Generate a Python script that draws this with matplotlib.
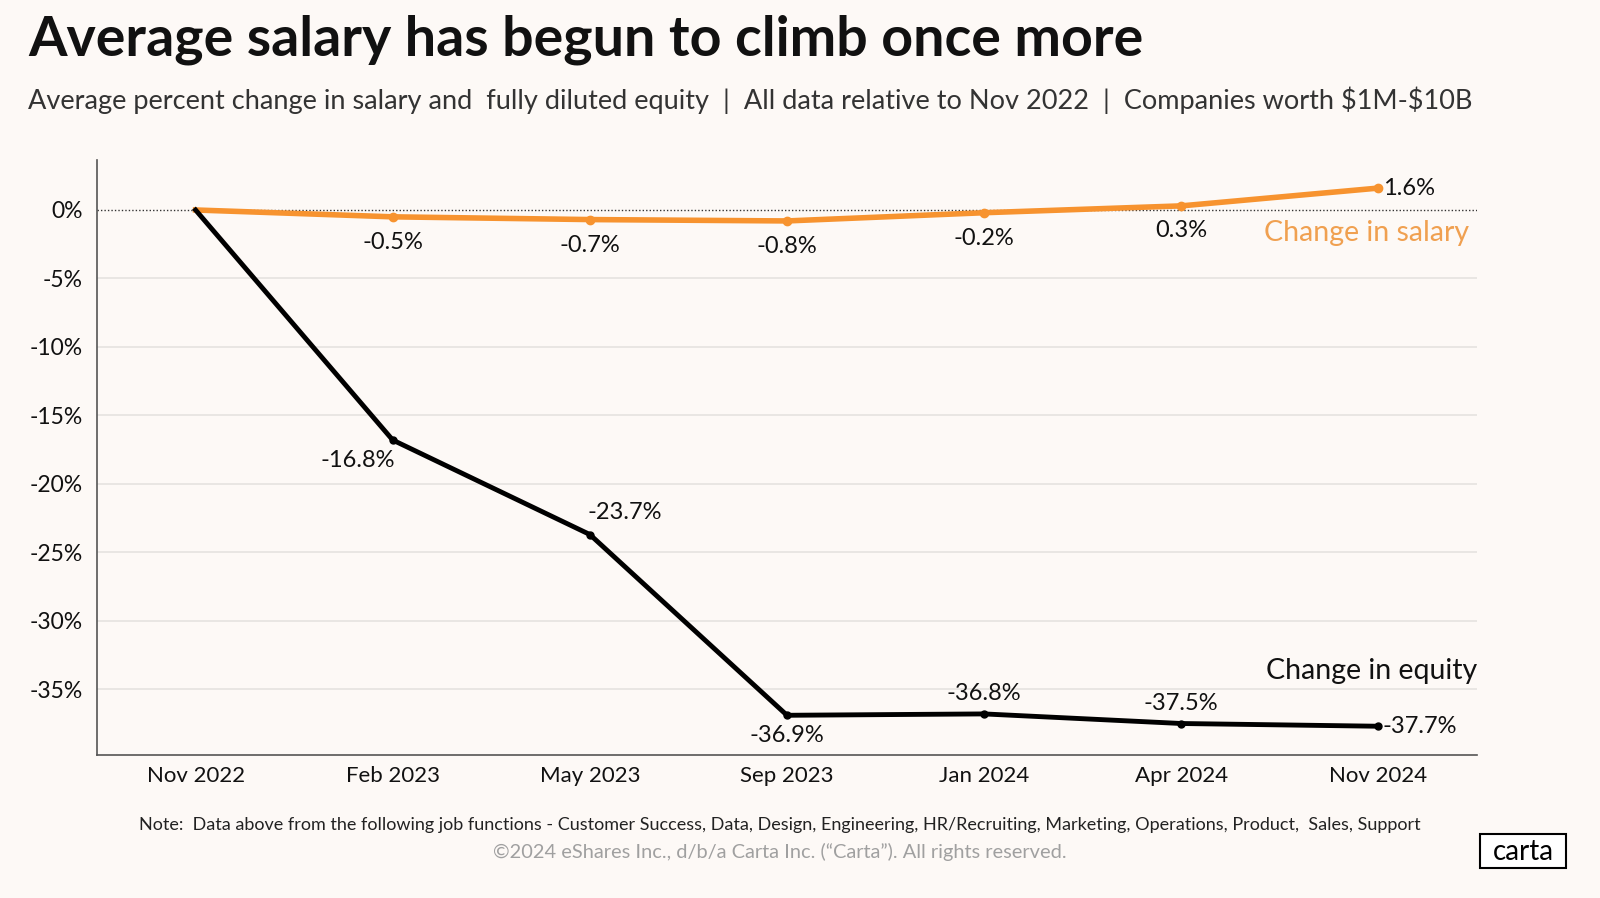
import matplotlib.pyplot as plt
from matplotlib.patches import FancyBboxPatch

# data
months = ['Nov 2022', 'Feb 2023', 'May 2023', 'Sep 2023', 'Jan 2024', 'Apr 2024', 'Nov 2024']
salary = [0.0, -0.5, -0.7, -0.8, -0.2, 0.3, 1.6]
equity = [0.0, -16.8, -23.7, -36.9, -36.8, -37.5, -37.7]
yticks = [0, -5, -10, -15, -20, -25, -30, -35]

# label placement (offset in points, alignment) per point
salary_pos = [None, (0, -11, 'center', 'top'), (0, -11, 'center', 'top'), (0, -11, 'center', 'top'),
              (0, -11, 'center', 'top'), (0, -10, 'center', 'top'), (3, 0, 'left', 'center')]
equity_pos = [None, (-25, -7, 'center', 'top'), (25, 8, 'center', 'bottom'), (0, -7, 'center', 'top'),
              (0, 7, 'center', 'bottom'), (0, 7, 'center', 'bottom'), (3, 0, 'left', 'center')]

BG = '#FDF9F6'
ORANGE = '#F7932F'
plt.rcParams['font.family'] = ['Lato', 'DejaVu Sans']

fig = plt.figure(figsize=(16, 8.98), dpi=100, facecolor=BG)
ax = fig.add_axes([97 / 1600, 1 - 755 / 898, 1380 / 1600, 595 / 898])
ax.set_facecolor(BG)

x = list(range(len(months)))

# grid lines
for t in yticks[1:]:
    ax.axhline(t, color='#E6E3E0', lw=1.2, zorder=0)
ax.axhline(0, color='#333333', lw=1, ls=(0, (1, 1.5)), zorder=1)

ax.plot(x, salary, color=ORANGE, lw=4, zorder=3)
ax.plot(x[1:], salary[1:], 'o', color=ORANGE, ms=6, zorder=4)
ax.plot(x, equity, color='black', lw=3.5, zorder=3)
ax.plot(x[1:], equity[1:], 'o', color='black', ms=5, zorder=4)

for vals, pos in [(salary, salary_pos), (equity, equity_pos)]:
    for i, v in enumerate(vals):
        if pos[i] is None:
            continue
        dx, dy, ha, va = pos[i]
        ax.annotate(f'{v:.1f}%', (i, v), xytext=(dx, dy), textcoords='offset points',
                    ha=ha, va=va, fontsize=17, color='#111111')

ax.text(6.46, -1.7, 'Change in salary', color='#F0A050', fontsize=20.5, ha='right', va='center')
ax.text(6.5, -33.7, 'Change in equity', color='#111111', fontsize=20.5, ha='right', va='center')

ax.set_xlim(-0.5, 6.5)
ax.set_ylim(-39.8, 3.65)
ax.set_xticks(x)
ax.set_xticklabels(months, fontsize=16, color='#111111')
ax.set_yticks(yticks)
ax.set_yticklabels([f'{t}%' for t in yticks], fontsize=16.5, color='#111111')
ax.tick_params(axis='both', length=0, pad=8)
ax.tick_params(axis='y', pad=10)
for s in ['top', 'right']:
    ax.spines[s].set_visible(False)
for s in ['left', 'bottom']:
    ax.spines[s].set_color('#555555')
    ax.spines[s].set_linewidth(1.2)

fig.text(28 / 1600, 1 - 40 / 898, 'Average salary has begun to climb once more',
         fontsize=40, fontweight='bold', color='#111111', va='center')
fig.text(28 / 1600, 1 - 100 / 898,
         r'Average percent change in salary and  fully diluted equity  |  All data relative to Nov 2022  |  Companies worth \$1M-\$10B',
         fontsize=19.5, color='#333333', va='center')
fig.text(780 / 1600, 1 - 825 / 898,
         'Note:  Data above from the following job functions - Customer Success, Data, Design, Engineering, HR/Recruiting, Marketing, Operations, Product,  Sales, Support',
         fontsize=13, color='#222222', ha='center', va='center')
fig.text(780 / 1600, 1 - 852 / 898,
         '\u00a92024 eShares Inc., d/b/a Carta Inc. (\u201cCarta\u201d). All rights reserved.',
         fontsize=14.4, color='#A0A0A0', ha='center', va='center')

# carta logo box
logo = FancyBboxPatch((1480 / 1600, 1 - 868 / 898), 86 / 1600, 34 / 898,
                      boxstyle='square,pad=0', transform=fig.transFigure,
                      facecolor='white', edgecolor='black', lw=1.5)
fig.patches.append(logo)
fig.text(1523 / 1600, 1 - 852 / 898, 'carta', fontsize=20, color='black',
         ha='center', va='center')

fig.savefig('out.png', dpi=100, facecolor=BG)
